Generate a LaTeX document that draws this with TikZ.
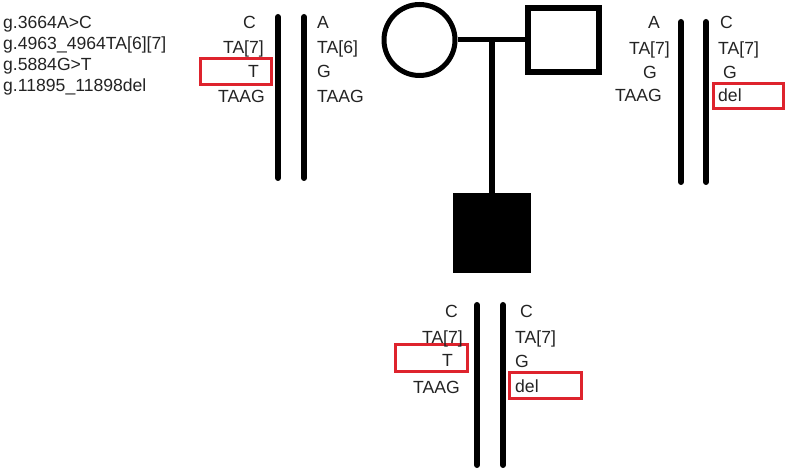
\documentclass[tikz,border=0pt]{standalone}
\usepackage{fontspec}
\setmainfont{Liberation Sans}
\usetikzlibrary{positioning}
\definecolor{boxred}{RGB}{222,35,45}
\definecolor{basecolor}{RGB}{35,35,35}

\begin{document}
\begin{tikzpicture}[x=1pt, y=-1pt,
			allele/.style={font=\fontsize{17.6}{18}\selectfont, text=basecolor, inner sep=0pt},
			female/.style={circle, draw, line width=5pt, minimum size=71pt, inner sep=0pt},
			male/.style={rectangle, draw, line width=6pt, minimum width=71pt, minimum height=64pt, inner sep=0pt},
			affected/.style={rectangle, fill=black, minimum width=78pt, minimum height=80pt, inner sep=0pt},
			chrom/.style={line width=6pt, line cap=round},
			hit/.style={draw=boxred, line width=3pt},
		]
		\useasboundingbox (0,0) rectangle (787,470);

		% pedigree
		\node[female]   (mother)  at (419.5,40)  {};
		\node[male]     (father)  at (563.5,40)  {};
		\node[affected] (child)   at (492,233)   {};
		\coordinate (mid) at (492,40);

		\draw[line width=5pt] (mother) -- (father);
		\draw[line width=6pt] (mid) -- (mid |- child.north);

		% variant list
		\node[allele, anchor=base west] (v1) at (3,29) {g.3664A>C};
		\node[allele, anchor=base west] (v2) at (3,50) {g.4963\_4964TA[6][7]};
		\node[allele, anchor=base west] (v3) at (3,71) {g.5884G>T};
		\node[allele, anchor=base west] (v4) at (3,92) {g.11895\_11898del};

		% mother chromosomes
		\draw[chrom] (278,17) -- (278,178);
		\draw[chrom] (304,17) -- (304,178);
		\draw[hit] (200.5,58.5) rectangle (271.5,85);
		\node[allele, anchor=base east] (m1) at (256,29)  {C};
		\node[allele, anchor=base east] (m2) at (264,54)  {TA[7]};
		\node[allele, anchor=base east] (m3) at (259,78)  {T};
		\node[allele, anchor=base east] (m4) at (265,103) {TAAG};
		\node[allele, anchor=base west] (m5) at (317,29)  {A};
		\node[allele, anchor=base west] (m6) at (317,54)  {TA[6]};
		\node[allele, anchor=base west] (m7) at (317,78)  {G};
		\node[allele, anchor=base west] (m8) at (317,103) {TAAG};

		% father chromosomes
		\draw[chrom] (681,22) -- (681,182);
		\draw[chrom] (706,22) -- (706,182);
		\draw[hit] (713.5,83.5) rectangle (783.5,108.5);
		\node[allele, anchor=base]      (f1) at (654,29)  {A};
		\node[allele, anchor=base east] (f2) at (670,55)  {TA[7]};
		\node[allele, anchor=base]      (f3) at (650,79)  {G};
		\node[allele, anchor=base east] (f4) at (662,102) {TAAG};
		\node[allele, anchor=base west] (f5) at (720,29)  {C};
		\node[allele, anchor=base west] (f6) at (718,55)  {TA[7]};
		\node[allele, anchor=base west] (f7) at (723,79)  {G};
		\node[allele, anchor=base west] (f8) at (718,102) {del};

		% child chromosomes
		\draw[chrom] (477,305) -- (477,465);
		\draw[chrom] (503,305) -- (503,465);
		\draw[hit] (395.5,344.5) rectangle (467.5,371.5);
		\draw[hit] (509.5,372.5) rectangle (581.5,398.5);
		\node[allele, anchor=base east] (c1) at (458,318) {C};
		\node[allele, anchor=base east] (c2) at (463,343) {TA[7]};
		\node[allele, anchor=base east] (c3) at (453,366) {T};
		\node[allele, anchor=base east] (c4) at (460,393) {TAAG};
		\node[allele, anchor=base west] (c5) at (520,318) {C};
		\node[allele, anchor=base west] (c6) at (515,343) {TA[7]};
		\node[allele, anchor=base west] (c7) at (515,367) {G};
		\node[allele, anchor=base west] (c8) at (515,392) {del};

		\end{tikzpicture}
\end{document}
